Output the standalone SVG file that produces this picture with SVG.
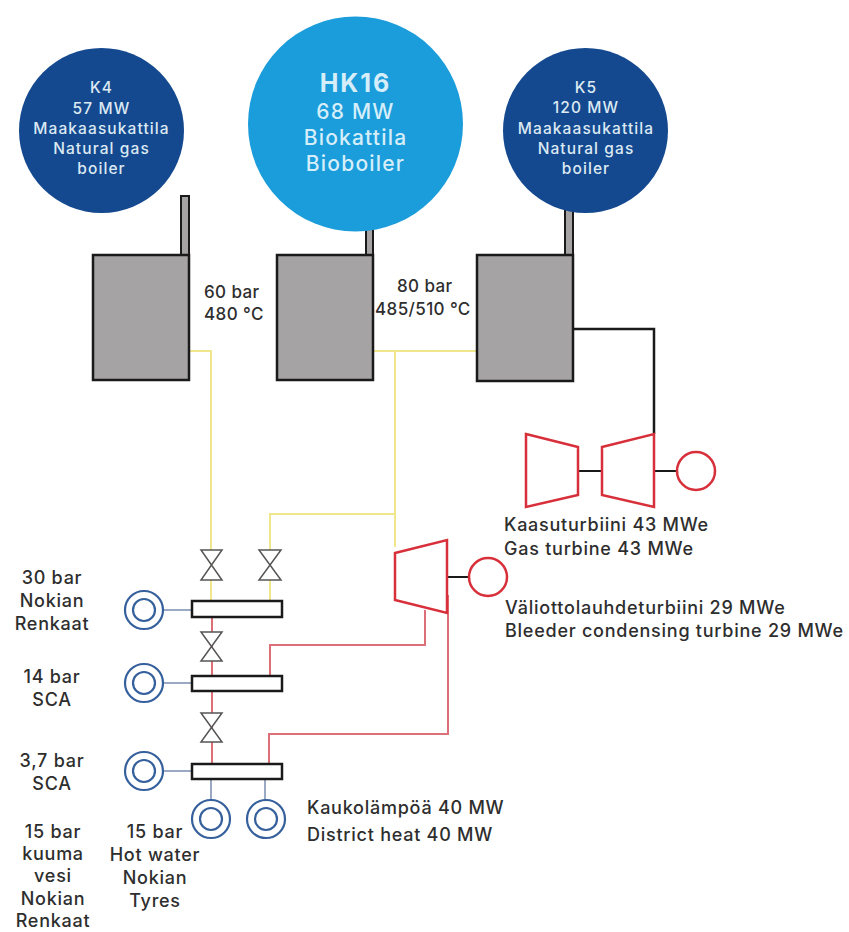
<svg xmlns="http://www.w3.org/2000/svg" width="849" height="932" viewBox="0 0 849 932">
<style>
text{font-family:"Inter","Noto Sans",sans-serif;font-size:18px;fill:#2e2e2e;font-weight:500;letter-spacing:.75px}
.c{text-anchor:middle}
.s{font-size:17px;letter-spacing:.4px}
.w{fill:#dce9f3;font-size:15.5px;letter-spacing:1.1px}
.b{fill:#d6eefa;font-size:21px;letter-spacing:1.2px}
.box{fill:#a5a3a3;stroke:#1a1a1a;stroke-width:2.5}
.stack{fill:#a5a3a3;stroke:#1a1a1a;stroke-width:2}
.y{fill:none;stroke:#f0e68c;stroke-width:2}
.r{fill:none;stroke:#dc6f78;stroke-width:2}
.k{fill:none;stroke:#1a1a1a;stroke-width:2.5}
.sh{fill:none;stroke:#1a1a1a;stroke-width:2}
.t{fill:#fff;stroke:#d8303a;stroke-width:2.5}
.hx{fill:#fff;stroke:#1a1a1a;stroke-width:2.5}
.v{fill:#fff;stroke:#555;stroke-width:1.5}
.o{fill:#fff;stroke:#35609c;stroke-width:2.2}
.l{stroke:#9aaac4;stroke-width:2;fill:none}
</style>
<g id="connectors">
<path class="y" d="M189 351H211V601"/>
<path class="y" d="M373 351H476M395 351V547M395 514H270V601"/>
<path class="r" d="M212 617V676M212 690V764"/>
<path class="r" d="M270 676V645H425V610"/>
<path class="r" d="M269 764V734H448V595"/>
<path class="k" d="M573 329H654V434"/>
<path class="sh" d="M578 471H602M654 471H677M447 577H469"/>
<path class="l" d="M163 610H192M163 683H192M163 771H192M211 779V800M265 779V800"/>
</g>
<g id="k4"><circle cx="101.5" cy="130.5" r="82.5" fill="#15498f"/><rect class="stack" x="181" y="196" width="8" height="60"/><rect class="box" x="93" y="255" width="96" height="125"/>
<text class="c w" x="101.5" y="93">K4</text><text class="c w" x="101.5" y="114">57 MW</text><text class="c w" x="101.5" y="134">Maakaasukattila</text><text class="c w" x="101.5" y="154">Natural gas</text><text class="c w" x="101.5" y="174">boiler</text></g>
<g id="hk16"><rect class="stack" x="366" y="225" width="7" height="30"/><rect class="box" x="277" y="255" width="96" height="125"/><circle cx="355.5" cy="124" r="107.5" fill="#1b9ddb"/>
<text class="c b" x="355.5" y="92" style="font-size:25px;font-weight:700;letter-spacing:2px">HK16</text><text class="c b" x="355.5" y="119">68 MW</text><text class="c b" x="355.5" y="145">Biokattila</text><text class="c b" x="355.5" y="171">Bioboiler</text></g>
<g id="k5"><rect class="stack" x="565" y="205" width="8" height="50"/><rect class="box" x="477" y="255" width="96" height="126"/><circle cx="585.5" cy="130.5" r="82.5" fill="#15498f"/>
<text class="c w" x="586" y="93">K5</text><text class="c w" x="586" y="113">120 MW</text><text class="c w" x="586" y="134">Maakaasukattila</text><text class="c w" x="586" y="154">Natural gas</text><text class="c w" x="586" y="174">boiler</text></g>
<g id="labels-steam"><text class="s" x="204" y="298">60 bar</text><text class="s" x="204" y="320">480 °C</text><text class="s" x="397" y="292">80 bar</text><text class="s" x="375" y="315">485/510 °C</text></g>
<g id="gas-turbine"><path class="t" d="M526 434L578 447V495L526 507Z"/><path class="t" d="M602 447L654 434V507L602 495Z"/><circle class="t" cx="696" cy="471" r="19"/>
<text x="504" y="531">Kaasuturbiini 43 MWe</text><text x="504" y="555">Gas turbine 43 MWe</text></g>
<g id="bleeder-turbine"><path class="t" d="M395 553L447 540V613L395 600Z"/><circle class="t" cx="488" cy="577" r="19"/>
<text x="505" y="614">Väliottolauhdeturbiini 29 MWe</text><text x="505" y="637">Bleeder condensing turbine 29 MWe</text></g>
<g id="valves"><path class="v" d="M201 550H222L201 580H222Z"/><path class="v" d="M259 550H281L259 580H281Z"/><path class="v" d="M201 632H222L201 661H222Z"/><path class="v" d="M201 713H222L201 742H222Z"/></g>
<g id="hx30"><rect class="hx" x="192" y="601" width="90" height="16"/><circle class="o" cx="144" cy="610" r="19"/><circle class="o" cx="144" cy="610" r="11"/><text class="c" x="52" y="584">30 bar</text><text class="c" x="52" y="607">Nokian</text><text class="c" x="52" y="630">Renkaat</text></g>
<g id="hx14"><rect class="hx" x="192" y="676" width="90" height="15"/><circle class="o" cx="144" cy="683" r="19"/><circle class="o" cx="144" cy="683" r="11"/><text class="c" x="52" y="683">14 bar</text><text class="c" x="52" y="706">SCA</text></g>
<g id="hx37"><rect class="hx" x="192" y="764" width="90" height="15"/><circle class="o" cx="144" cy="771" r="19"/><circle class="o" cx="144" cy="771" r="11"/><text class="c" x="52" y="767">3,7 bar</text><text class="c" x="52" y="790">SCA</text></g>
<g id="hot-water"><circle class="o" cx="211" cy="819" r="19"/><circle class="o" cx="211" cy="819" r="11"/><circle class="o" cx="266" cy="819" r="19"/><circle class="o" cx="266" cy="819" r="11"/>
<text x="307" y="814">Kaukolämpöä 40 MW</text><text x="307" y="841">District heat 40 MW</text>
<text class="c" x="53" y="838">15 bar</text><text class="c" x="53" y="860">kuuma</text><text class="c" x="53" y="882">vesi</text><text class="c" x="53" y="905">Nokian</text><text class="c" x="53" y="927">Renkaat</text>
<text class="c" x="155" y="838">15 bar</text><text class="c" x="155" y="861">Hot water</text><text class="c" x="155" y="884">Nokian</text><text class="c" x="155" y="907">Tyres</text></g>
</svg>
